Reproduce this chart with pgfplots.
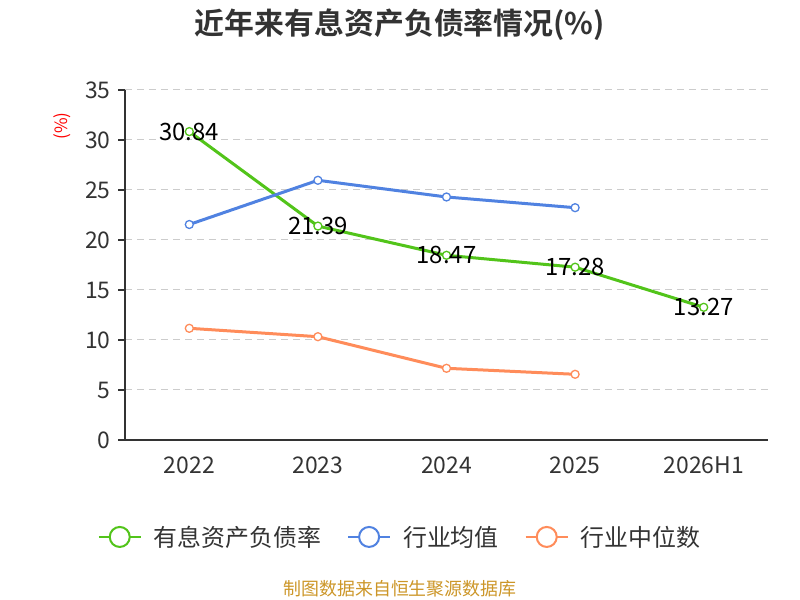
\documentclass[border=0pt]{standalone}
\usepackage{pgfplots}
\pgfplotsset{compat=1.18}
\usepackage{fontspec}
\setmainfont{Noto Sans CJK SC}
\newfontfamily\boldcjk{Noto Sans CJK SC Bold}
\definecolor{cgreen}{RGB}{82,196,26}
\definecolor{cblue}{RGB}{80,130,225}
\definecolor{corange}{RGB}{255,140,90}
\definecolor{csrc}{RGB}{204,150,40}
\definecolor{ctick}{RGB}{51,51,51}
\begin{document}
\begin{tikzpicture}[x=1bp,y=1bp]
\path[use as bounding box] (0,0) rectangle (800,600);
\begin{axis}[
  at={(125bp,160bp)}, anchor=south west,
  scale only axis, width=643bp, height=350bp,
  xmin=-0.5, xmax=4.5, ymin=0, ymax=35,
  axis lines*=left,
  axis line style={ctick, line width=1.3bp},
  /pgf/number format/assume math mode=true,
  xtick={0,1,2,3,4},
  xticklabels={2022,2023,2024,2025,2026H1},
  major x tick style={draw=none},
  extra x ticks={-0.5,0.5,1.5,2.5,3.5,4.5},
  extra x tick labels={},
  extra x tick style={major tick length=7bp, tick style={ctick, line width=1.3bp}},
  ytick={0,5,...,35},
  ymajorgrids,
  grid style={gray!40, line width=1bp, dash pattern=on 7bp off 5bp},
  tick align=outside,
  major tick length=7bp,
  major y tick style={ctick, line width=1.3bp},
  tick label style={font=\fontsize{23}{23}\selectfont, text=ctick},
  xticklabel style={yshift=-6bp},
  yticklabel style={xshift=-4bp},
  clip=false,
  legend columns=3,
  legend style={at={(0.4277,-0.277)}, anchor=center, draw=none,
    font=\fontsize{24}{24}\selectfont, text=ctick,
    /tikz/every odd column/.style={column sep=10bp},
    /tikz/every even column/.style={column sep=24bp}},
  legend image code/.code={
    \draw[line width=2bp] (0bp,0bp) -- (42bp,0bp);
    \draw[line width=2bp, fill=white] (21bp,0bp) circle (10bp);
  },
]
\addplot[cgreen, line width=3bp, mark=*, mark size=4bp,
  mark options={fill=white, draw=cgreen, line width=1.3bp},
  point meta=explicit symbolic,
  nodes near coords,
  nodes near coords style={anchor=center, text=black, font=\fontsize{24}{24}\selectfont}]
  coordinates {(0,30.84)[30.84] (1,21.39)[21.39] (2,18.47)[18.47] (3,17.28)[17.28] (4,13.27)[13.27]};
\addlegendentry{有息资产负债率}
\addplot[cblue, line width=3bp, mark=*, mark size=4bp,
  mark options={fill=white, draw=cblue, line width=1.3bp}]
  coordinates {(0,21.55) (1,25.97) (2,24.3) (3,23.23)};
\addlegendentry{行业均值}
\addplot[corange, line width=3bp, mark=*, mark size=4bp,
  mark options={fill=white, draw=corange, line width=1.3bp}]
  coordinates {(0,11.17) (1,10.33) (2,7.17) (3,6.57)};
\addlegendentry{行业中位数}
\end{axis}
\node[text=ctick, font=\boldcjk\fontsize{30}{30}\selectfont] at (400,575) {近年来有息资产负债率情况(\%)};
\node[text=red, rotate=90, font=\fontsize{17}{17}\selectfont] at (62,474) {(\%)};
\node[text=csrc, font=\fontsize{18}{18}\selectfont] at (400,11) {制图数据来自恒生聚源数据库};
\end{tikzpicture}
\end{document}
